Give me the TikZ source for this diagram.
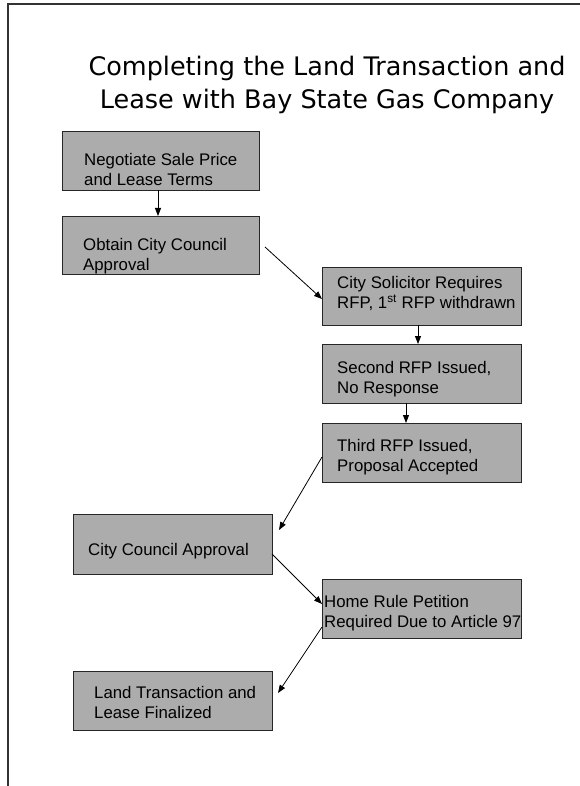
\documentclass[tikz,border=0pt]{standalone}
\usepackage{fontspec}
\usepackage{tikz}
\usetikzlibrary{arrows.meta}
\newfontfamily\arialface{Liberation Sans}
\newfontfamily\titleface{DejaVu Sans}
\newcommand\stagefont{\arialface\fontsize{16.8pt}{20pt}\selectfont}
\newcommand\headfont{\titleface\fontsize{25.5pt}{33pt}\selectfont}
\definecolor{boxgray}{RGB}{172,172,172}

\begin{document}
\begin{tikzpicture}[x=1pt,y=-1pt,
stagebox/.style={draw=black!85, line width=0.8pt, fill=boxgray,
  minimum width=199pt, minimum height=59pt, inner sep=0pt, outer sep=0pt},
stagetext/.style={font=\stagefont, align=left, inner sep=0pt, anchor=north west},
flowarrow/.style={line width=0.8pt, -{Triangle[length=8pt,width=6pt]}}]
\useasboundingbox (0,0) rectangle (580,786);
\draw[line width=1.4pt, black!80] (8,786) -- (8,4) -- (580,4);

\node[font=\headfont, align=center, inner sep=0pt, anchor=north] (title) at (327,56)
  {Completing the Land Transaction and\\Lease with Bay State Gas Company};

\node[stagebox, minimum width=197pt] (b1) at (160.5,160.5) {};
\node[stagebox, minimum width=197pt, minimum height=58pt] (b2) at (160.5,245) {};
\node[stagebox, minimum height=58pt] (b3) at (421.5,296) {};
\node[stagebox] (b4) at (421.5,373.5) {};
\node[stagebox] (b5) at (421.5,452.5) {};
\node[stagebox, minimum height=60pt] (b6) at (172.5,544) {};
\node[stagebox] (b7) at (421.5,608.5) {};
\node[stagebox] (b8) at (172.5,700.5) {};

\node[stagetext] (t1) at ([xshift=22pt,yshift=-22pt]b1.north west) {Negotiate Sale Price\\and Lease Terms};
\node[stagetext] (t2) at ([xshift=21pt,yshift=-22pt]b2.north west) {Obtain City Council\\Approval};
\node[stagetext] (t3) at ([xshift=15pt,yshift=-9pt]b3.north west) {City Solicitor Requires\\RFP, 1\textsuperscript{st} RFP withdrawn};
\node[stagetext] (t4) at ([xshift=15pt,yshift=-17pt]b4.north west) {Second RFP Issued,\\No Response};
\node[stagetext] (t5) at ([xshift=15pt,yshift=-16pt]b5.north west) {Third RFP Issued,\\Proposal Accepted};
\node[stagetext] (t6) at ([xshift=15pt,yshift=-29pt]b6.north west) {City Council Approval};
\node[stagetext] (t7) at ([xshift=2pt,yshift=-16pt]b7.north west) {Home Rule Petition\\Required Due to Article 97};
\node[stagetext] (t8) at ([xshift=21pt,yshift=-15pt]b8.north west) {Land Transaction and\\Lease Finalized};

\draw[flowarrow] ([xshift=-2.5pt]b1.south) -- ([xshift=-2.5pt]b2.north);
\draw[flowarrow] ([xshift=6pt,yshift=-2pt]b2.east) -- ([yshift=-3pt]b3.west);
\draw[flowarrow] ([xshift=-3.5pt]b3.south) -- ([xshift=-3.5pt]b4.north);
\draw[flowarrow] ([xshift=-15.5pt]b4.south) -- ([xshift=-15.5pt]b5.north);
\draw[flowarrow] ([yshift=-4.5pt]b5.west) -- ([xshift=7pt,yshift=14pt]b6.east);
\draw[flowarrow] ([yshift=-10pt]b6.east) -- ([yshift=4.5pt]b7.west);
\draw[flowarrow] ([yshift=-18.5pt]b7.west) -- ([xshift=6pt,yshift=7.5pt]b8.east);
\end{tikzpicture}
\end{document}
